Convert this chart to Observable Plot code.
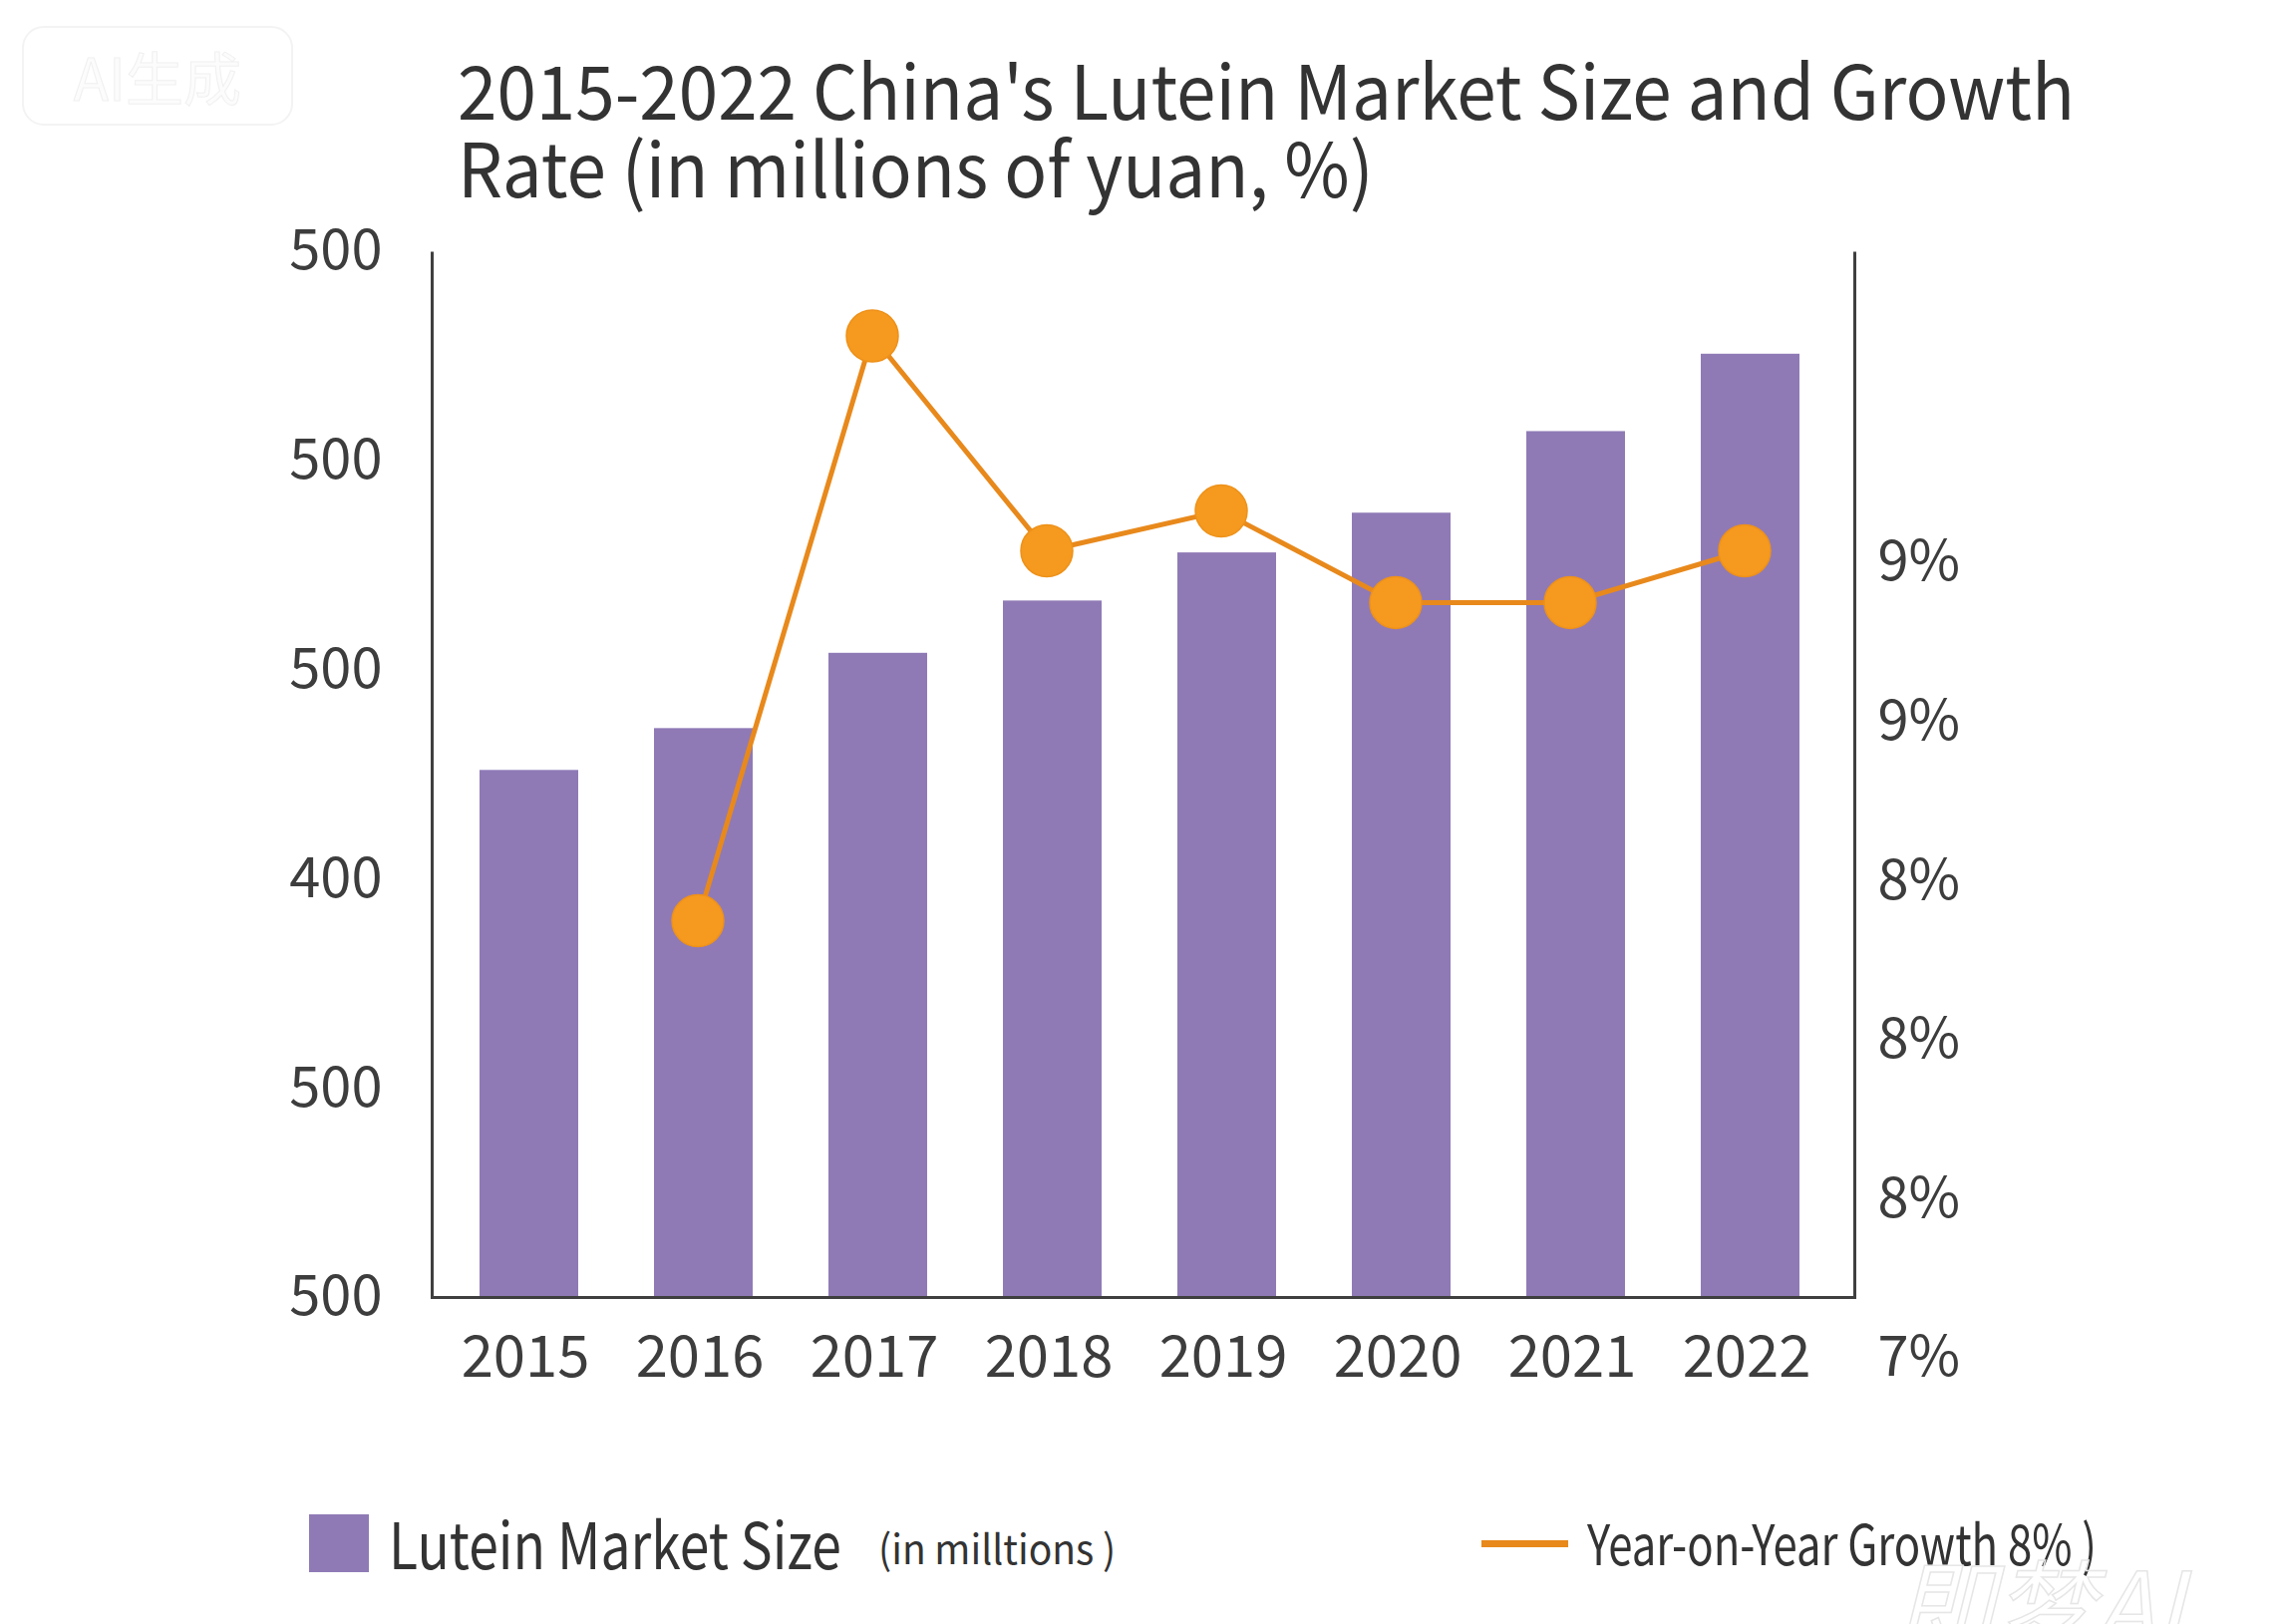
<!DOCTYPE html>
<html>
<head>
<meta charset="utf-8">
<script src="https://cdn.jsdelivr.net/npm/d3@7"></script>
<script src="https://cdn.jsdelivr.net/npm/@observablehq/plot@0.6"></script>
<style>
  html, body { margin: 0; padding: 0; background: #ffffff; }
  body {
    position: relative; width: 2284px; height: 1629px; overflow: hidden;
    font-family: "Noto Sans CJK SC", "Noto Sans", sans-serif; color: #333333;
  }
  .abs { position: absolute; white-space: nowrap; transform-origin: 0 50%; }
  .t { left: 459px; font-size: 75px; line-height: 70px; color: #333333; transform: scaleX(0.947); }
  #title1 { top: 53px; }
  #title2 { top: 131px; }
  #chart { left: 0; top: 215px; }
  #badge {
    left: 22px; top: 26px; width: 272px; height: 100px; border-radius: 22px;
    border: 2px solid #f3f3f3; box-sizing: border-box;
    font-size: 58px; line-height: 96px; text-align: center;
    color: #fcfcfc; -webkit-text-stroke: 1px #f0f0f0;
  }
  #mark {
    left: 1900px; top: 1556px; font-size: 100px; line-height: 1; font-style: italic;
    color: transparent; -webkit-text-stroke: 1.5px #e6e6e6;
  }
  .swatch { left: 310px; top: 1519px; width: 60px; height: 58px; }
  .legline { left: 1486px; top: 1545px; width: 87px; height: 7px; }
  #leg1 { left: 390px; top: 1514px; font-size: 64px; line-height: 64px; color: #333; transform: scaleX(0.835); }
  #leg2 { left: 881px; top: 1531px; font-size: 41px; line-height: 41px; color: #333; transform: scaleX(0.95); }
  #leg3 { left: 1592px; top: 1518px; font-size: 56px; line-height: 56px; color: #333; transform: scaleX(0.78); }
</style>
</head>
<body>
<div id="badge" class="abs">AI生成</div>
<div id="title1" class="abs t">2015-2022 China's Lutein Market Size and Growth</div>
<div id="title2" class="abs t">Rate (in millions of yuan, %)</div>
<div id="chart" class="abs"></div>
<div class="abs swatch" id="sw"></div>
<div class="abs" id="leg1">Lutein Market Size</div>
<div class="abs" id="leg2">(in milltions )</div>
<div class="abs legline" id="ll"></div>
<div class="abs" id="leg3">Year-on-Year Growth 8% )</div>
<div id="mark" class="abs">即梦AI</div>
<script>
// Lutein market size (millions of yuan) per year
const years = ["2015", "2016", "2017", "2018", "2019", "2020", "2021", "2022"];
const marketSize = [252, 272, 308, 333, 356, 375, 414, 451];

// Year-on-year growth rate (%)
const growthYears = ["2016", "2017", "2018", "2019", "2020", "2021", "2022"];
const growthRate = [8.30, 9.77, 9.23, 9.33, 9.10, 9.10, 9.23];

// Axis ticks and their printed labels (bottom to top)
const leftTickValues = [0, 100, 200, 300, 400, 500];
const leftTickLabels = ["500", "500", "400", "500", "500", "500"];
const rightTickValues = [7.2, 7.6, 8.0, 8.4, 8.8, 9.2];
const rightTickLabels = ["7%", "8%", "8%", "8%", "9%", "9%"];

const BAR = "#8f7ab6";
const LINE = "#e8891c";
const DOT = "#f59a1f";
const AXIS = "#3f3f3f";

document.getElementById("sw").style.background = BAR;
document.getElementById("ll").style.background = LINE;

// Secondary (growth) axis expressed in units of the primary y scale
const growthToSize = d3.scaleLinear().domain([7.2, 9.2]).range([-29.1, 351.3]);

const sizeTable = years.map((year, i) => ({year, size: marketSize[i]}));
const growthTable = growthYears.map((year, i) => ({year, rate: growthRate[i], pos: growthToSize(growthRate[i])}));

const leftLabel = new Map(leftTickValues.map((v, i) => [v, leftTickLabels[i]]));
const rightPos = rightTickValues.map(v => growthToSize(v));
const rightLabel = new Map(rightPos.map((v, i) => [v, rightTickLabels[i]]));

const W = 2284, H = 1230;
const mL = 433, mR = 424, mT = 37, mB = 144;
const fw = W - mL - mR, fh = H - mT - mB;

const chart = Plot.plot({
  width: W,
  height: H,
  marginLeft: mL,
  marginRight: mR,
  marginTop: mT,
  marginBottom: mB,
  style: {
    fontFamily: '"Noto Sans CJK SC", "Noto Sans", sans-serif',
    fontSize: "56px",
    color: "#3d3d3d",
    background: "transparent",
    overflow: "visible"
  },
  x: {domain: years, range: [440, 1845], paddingInner: 0.436, paddingOuter: 0.218, label: null},
  y: {domain: [0, 500], label: null},
  marks: [
    Plot.barY(sizeTable, {x: "year", y: "size", fill: BAR}),
    // left, bottom and right edges of the plot area (top edge left open)
    Plot.frame({stroke: AXIS, strokeWidth: 3, strokeDasharray: `0 ${fw} ${2 * fh + fw}`}),
    Plot.axisY(leftTickValues, {
      anchor: "left", tickSize: 0, tickPadding: 50, fontSize: 56,
      tickFormat: d => leftLabel.get(d), label: null
    }),
    Plot.axisY(rightPos, {
      anchor: "right", tickSize: 0, tickPadding: 23, fontSize: 56,
      tickFormat: d => rightLabel.get(d), label: null
    }),
    Plot.axisX({tickSize: 0, tickPadding: 38, fontSize: 58, dx: -4, label: null}),
    Plot.line(growthTable, {x: "year", y: "pos", dx: -6, stroke: LINE, strokeWidth: 5}),
    Plot.dot(growthTable, {x: "year", y: "pos", dx: -6, r: 26, fill: DOT, stroke: "#ee9119", strokeWidth: 1.5})
  ]
});

document.getElementById("chart").appendChild(chart);
</script>
</body>
</html>
